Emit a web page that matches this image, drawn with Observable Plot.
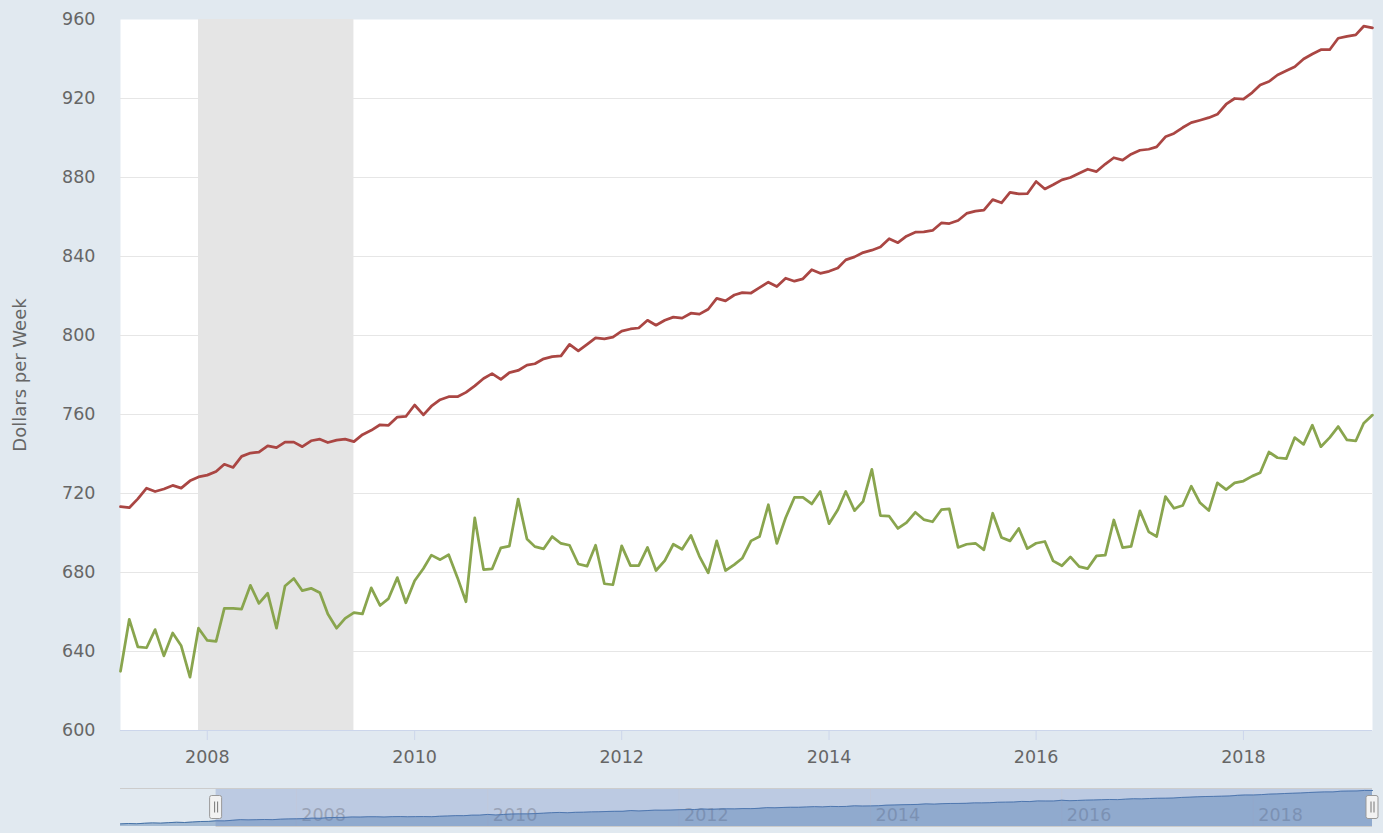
<!DOCTYPE html>
<html><head><meta charset="utf-8">
<script src="https://cdn.jsdelivr.net/npm/d3@7"></script>
<script src="https://cdn.jsdelivr.net/npm/@observablehq/plot@0.6"></script>
<style>
html,body{margin:0;padding:0;background:#e1e9f0;}
#chart{position:relative;width:1383px;height:833px;overflow:hidden;background:#e1e9f0;}
#main{position:absolute;left:0;top:0;}
#nav{position:absolute;left:0;top:780px;}
svg{display:block;}
</style></head><body>
<div id="chart"><div id="main"></div><div id="nav"></div></div>
<script>
// ---- data (monthly, starting 2007-03) ----
const seriesStart = "2007-03-01";
const seriesEnd = "2019-04-01";
const redValues = [
713.3,712.8,717.3,722.7,721.0,722.3,724.1,722.7,726.4,728.4,
729.3,731.1,734.8,733.2,738.8,740.5,741.0,744.1,743.2,746.0,746.0,743.7,746.7,747.5,
745.8,747.0,747.5,746.3,749.8,752.0,754.8,754.5,758.7,759.0,764.8,759.8,
764.2,767.5,769.0,769.0,771.2,774.5,778.2,780.7,777.8,781.2,782.3,785.0,
785.7,788.2,789.3,789.7,795.5,792.2,795.5,798.8,798.3,799.2,802.2,803.3,
803.8,807.7,805.2,807.7,809.3,808.8,811.3,810.8,813.3,818.8,817.5,820.5,
821.7,821.5,824.2,827.0,824.8,829.0,827.5,828.7,833.3,831.5,832.5,834.2,
838.3,839.8,842.0,843.2,844.8,849.0,847.0,850.3,852.3,852.5,853.2,857.0,
856.7,858.2,861.8,863.0,863.5,868.8,867.2,872.5,871.7,871.8,878.0,874.2,
876.3,878.8,880.0,882.2,884.2,883.0,886.8,890.0,888.8,891.8,893.8,894.3,
895.5,900.6,902.3,905.3,907.8,909.0,910.3,912.0,917.1,920.0,919.7,923.0,
926.8,928.6,931.9,934.0,936.1,940.0,942.5,944.7,944.7,950.5,951.5,952.2,
956.6,955.8
];
const greenValues = [
630.0,656.3,642.4,641.9,651.1,637.8,649.4,642.9,627.0,651.8,
645.6,645.1,661.8,661.8,661.5,673.5,664.4,669.5,651.8,673.2,677.0,670.8,672.0,669.7,
659.0,651.8,656.8,659.7,659.0,672.2,663.3,666.8,677.4,664.7,675.8,682.0,
688.8,686.5,689.0,677.4,665.2,707.6,681.5,681.8,692.5,693.4,717.2,697.0,
693.1,692.0,698.2,694.7,693.8,684.3,683.2,693.8,674.3,673.8,693.5,683.5,
683.5,692.7,681.0,686.0,694.3,691.8,698.8,688.2,679.8,696.0,681.0,684.0,
687.2,696.0,698.2,714.3,694.7,707.7,718.0,718.0,714.7,721.0,704.7,711.8,
721.0,711.3,716.0,732.2,708.8,708.5,702.3,705.2,710.5,706.8,705.7,711.8,
712.2,692.7,694.3,694.8,691.5,710.0,697.7,696.0,702.3,692.1,694.8,695.7,
685.9,683.4,687.9,683.0,682.0,688.4,688.8,706.6,692.6,693.2,711.2,700.6,
698.2,718.4,712.5,713.9,723.7,715.3,711.4,725.4,722.0,725.4,726.3,728.8,
730.5,741.0,738.1,737.6,748.3,744.9,754.6,743.7,748.3,753.9,747.1,746.6,
755.6,759.7
];
// navigator history before the zoomed range (2006-03 .. 2007-02)
const navStart = "2006-03-01";
const navEarlyValues = [689,692,690,694,697,695,699,702,700,704,708,709];
const recession = {start: "2007-12-01", end: "2009-06-01"};
const yTicks = [600,640,680,720,760,800,840,880,920,960];
const yGrid = [640,680,720,760,800,840,880,920];
const xTickYears = [2008,2010,2012,2014,2016,2018];
const navTickYears = [2008,2010,2012,2014,2016,2018];
const yLabel = "Dollars per Week";
const colors = {red: "#aa4643", green: "#89a54e", nav: "#4572a7", mask: "#6685c2"};

// ---- build tables ----
const start = new Date(seriesStart), end = new Date(seriesEnd);
const monthAt = (s, i) => d3.utcMonth.offset(new Date(s), i);
const red = redValues.map((v, i) => ({date: monthAt(seriesStart, i), value: v}));
const green = greenValues.map((v, i) => ({date: monthAt(seriesStart, i), value: v}));
const navValues = navEarlyValues.concat(redValues);
const navData = navValues.map((v, i) => ({date: monthAt(navStart, i), value: v}));
const xTickDates = xTickYears.map(y => new Date(Date.UTC(y, 0, 1)));
const navTickDates = navTickYears.map(y => new Date(Date.UTC(y, 0, 1)));
const rec = [{x1: new Date(recession.start), x2: new Date(recession.end)}];
const fmtY = d3.utcFormat("%Y");
const font = "DejaVu Sans, Verdana, sans-serif";

const main = Plot.plot({
  width: 1383, height: 780,
  marginLeft: 120, marginRight: 11, marginTop: 19, marginBottom: 50,
  style: {fontFamily: font, background: "transparent", overflow: "visible"},
  x: {type: "utc", domain: [start, end]},
  y: {domain: [600, 960]},
  marks: [
    Plot.frame({fill: "white", stroke: null}),
    Plot.ruleY(yGrid, {stroke: "#e6e6e6", strokeWidth: 1}),
    Plot.rect(rec, {x1: "x1", x2: "x2", fill: "#e5e5e5"}),
    Plot.ruleY([600], {stroke: "#ccd6eb"}),
    Plot.line(red, {x: "date", y: "value", stroke: colors.red, strokeWidth: 2.75}),
    Plot.line(green, {x: "date", y: "value", stroke: colors.green, strokeWidth: 2.75}),
    Plot.axisY({ticks: yTicks, tickSize: 0, tickPadding: 25, fontSize: 17.5, fill: "#666", label: null}),
    Plot.axisX({ticks: xTickDates, tickFormat: fmtY, tickSize: 10, tickPadding: 10, fontSize: 17.5,
                stroke: "#ccd6eb", fill: "#666", label: null}),
    Plot.text([yLabel], {frameAnchor: "left", dx: -100, rotate: -90, textAnchor: "middle",
              fontSize: 18, fill: "#666"})
  ]
});
document.getElementById("main").appendChild(main);

const navDomain = [668, 972];
const sel = [{x1: start, x2: end}];
const handleDates = [start, end];
const nav = Plot.plot({
  width: 1383, height: 53,
  marginLeft: 120, marginRight: 11, marginTop: 8, marginBottom: 7,
  style: {fontFamily: font, background: "transparent", overflow: "visible"},
  x: {type: "utc", domain: [new Date(navStart), end], axis: null},
  y: {domain: navDomain, axis: null},
  marks: [
    Plot.ruleX(navTickDates, {stroke: "#e6e6e6"}),
    Plot.text(navTickDates, {x: d => d, text: d => fmtY(d), frameAnchor: "bottom", dy: -11.5, dx: 5,
              textAnchor: "start", lineAnchor: "middle", fontSize: 17.5, fill: "#b0b0b0"}),
    Plot.areaY(navData, {x: "date", y1: navDomain[0], y2: "value", fill: colors.nav, fillOpacity: 0.4}),
    Plot.line(navData, {x: "date", y: "value", stroke: colors.nav, strokeWidth: 1}),
    Plot.rect(sel, {x1: "x1", x2: "x2", fill: colors.mask, fillOpacity: 0.3}),
    Plot.ruleY([navDomain[1]], {stroke: "#cccccc"}),
    Plot.ruleY([navDomain[0]], {x1: start, x2: end, stroke: "#cccccc"}),
    Plot.rect(handleDates, {x1: d => d, x2: d => d, y1: 728, y2: 912, insetLeft: -6, insetRight: -6,
              fill: "#f2f2f2", stroke: "#999", rx: 2}),
    Plot.ruleX(handleDates, {x: d => d, y1: 776, y2: 864, dx: -1.5, stroke: "#777"}),
    Plot.ruleX(handleDates, {x: d => d, y1: 776, y2: 864, dx: 1.5, stroke: "#777"})
  ]
});
document.getElementById("nav").appendChild(nav);
</script>
</body></html>
